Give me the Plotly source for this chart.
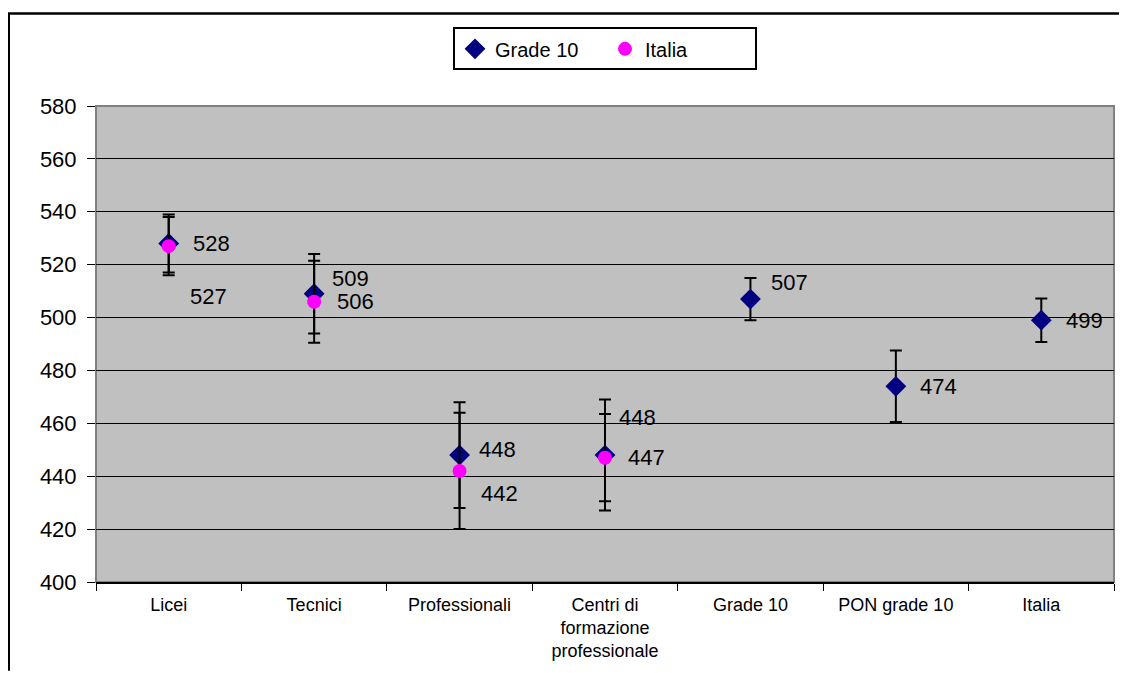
import plotly.graph_objects as go

categories = ["Licei", "Tecnici", "Professionali",
              "Centri di<br>formazione<br>professionale",
              "Grade 10", "PON grade 10", "Italia"]

grade10_values = [528, 509, 448, 448, 507, 474, 499]
grade10_errors = [11, 15, 20, 21, 8, 13.5, 8.2]

italia_cats = categories[:4]
italia_values = [527, 506, 442, 447]
italia_errors = [11, 15.5, 22, 16.5]

y_ticks = [400, 420, 440, 460, 480, 500, 520, 540, 560, 580]

# label offsets (pixels) for each data label
grade10_label_shift = [(43, 0), (36, 15), (38, 6), (32, 38), (39, 17), (43, 0), (43, 0)]
italia_label_shift = [(40, -50), (41, 0), (40, -23), (41, 0)]

# page has an 8px body margin; figure coordinates are offset accordingly
W, H = 1119, 665
L, R, T, B = 88, 13, 98, 89
PW, PH = W - L - R, H - T - B

fig = go.Figure()

fig.add_trace(go.Scatter(
    x=categories, y=grade10_values, mode="markers", name="Grade 10",
    marker=dict(symbol="diamond", size=16, color="#000080"),
    error_y=dict(type="data", array=grade10_errors, color="black",
                 thickness=2, width=6),
))
fig.add_trace(go.Scatter(
    x=italia_cats, y=italia_values, mode="markers", name="Italia",
    marker=dict(symbol="circle", size=14, color="#FF00FF"),
    error_y=dict(type="data", array=italia_errors, color="black",
                 thickness=2, width=6),
))

font_fam = "Liberation Sans, Arial, sans-serif"
for c, v, (dx, dy) in zip(categories, grade10_values, grade10_label_shift):
    fig.add_annotation(x=c, y=v, text=str(v), showarrow=False,
                       xshift=dx, yshift=dy,
                       font=dict(family=font_fam, size=22, color="black"))
for c, v, (dx, dy) in zip(italia_cats, italia_values, italia_label_shift):
    fig.add_annotation(x=c, y=v, text=str(v), showarrow=False,
                       xshift=dx, yshift=dy,
                       font=dict(family=font_fam, size=22, color="black"))

x_left = -L / PW
y_top = (PH + T - 5) / PH
# outer frame lines (top and left)
fig.add_shape(type="line", xref="paper", yref="paper",
              x0=x_left, x1=1 + R / PW, y0=y_top, y1=y_top,
              line=dict(color="black", width=2.5))
fig.add_shape(type="line", xref="paper", yref="paper",
              x0=x_left + 1 / PW, x1=x_left + 1 / PW, y0=y_top, y1=-B / PH,
              line=dict(color="black", width=2))
# plot area frame
fig.add_shape(type="rect", xref="paper", yref="paper",
              x0=0, x1=1, y0=0, y1=1,
              line=dict(color="#808080", width=2), layer="below")

fig.update_layout(
    width=W, height=H,
    margin=dict(l=L, r=R, t=T, b=B),
    paper_bgcolor="white",
    plot_bgcolor="#C0C0C0",
    font=dict(family=font_fam, color="black"),
    showlegend=True,
    legend=dict(orientation="h", x=0.5, xanchor="center",
                y=(PH + T - 19) / PH, yanchor="top",
                bordercolor="black", borderwidth=2, bgcolor="white",
                font=dict(size=20), itemwidth=30,
                entrywidth=105, entrywidthmode="pixels"),
    xaxis=dict(type="category", tickson="boundaries", ticks="outside",
               ticklen=7, tickcolor="black", showgrid=False,
               showline=True, linecolor="black", linewidth=2,
               tickfont=dict(size=18), ticklabelstandoff=5,
               range=[-0.5, 6.5]),
    yaxis=dict(range=[400, 580], tickvals=y_ticks, ticks="outside",
               ticklen=8, tickcolor="black", showgrid=True,
               gridcolor="black", gridwidth=1, zeroline=False,
               showline=False, tickfont=dict(size=22),
               ticklabelstandoff=6),
)

fig.write_html("out.html")
